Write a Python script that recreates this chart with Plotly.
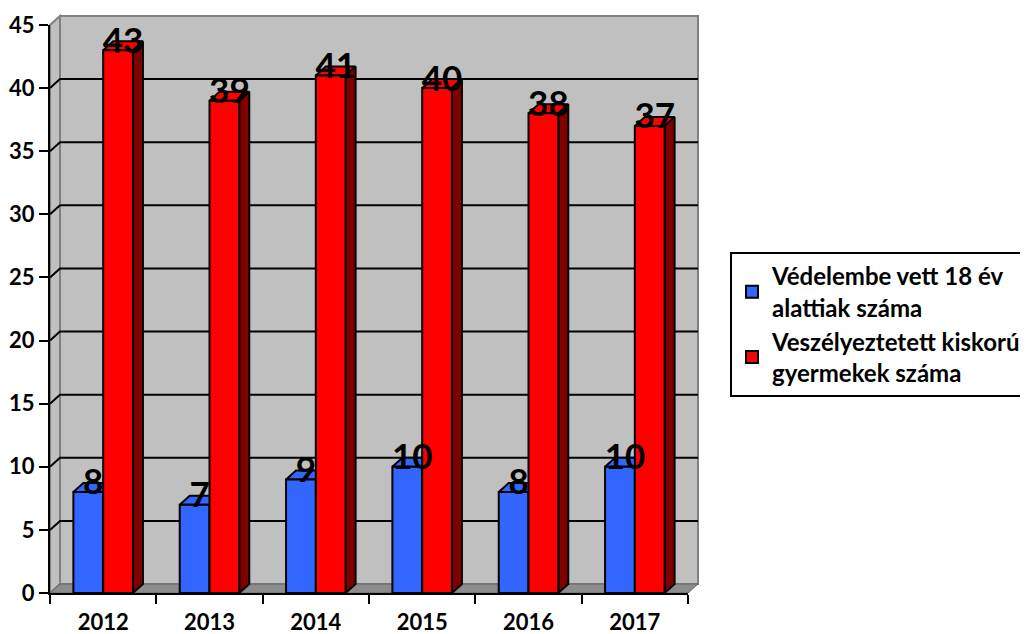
import plotly.graph_objects as go

# ---------------- data ----------------
years = ["2012", "2013", "2014", "2015", "2016", "2017"]
protected_minors = [8, 7, 9, 10, 8, 10]
endangered_children = [43, 39, 41, 40, 38, 37]
series_names = ["Védelembe vett 18 év<br>alattiak száma",
                "Veszélyeztetett kiskorú<br>gyermekek száma"]
y_ticks = [0, 5, 10, 15, 20, 25, 30, 35, 40, 45]

# ---------------- geometry / style ----------------
PAGE_OFF = 8                            # default body margin of the page
W, H = 1028 - PAGE_OFF, 634 - PAGE_OFF
ML, MT = 50 - PAGE_OFF, 25 - PAGE_OFF
PW, PH = 638, 568
MR, MB = W - ML - PW, H - MT - PH
N = len(years)
YMAX = 45
DXP, DYP = 10, 9                      # 3-D depth in pixels
DX = DXP / PW * N                      # depth in x data units
DY = DYP / PH * YMAX                   # depth in y data units
dxp, dyp = DXP / PW, DYP / PH          # depth in paper units
BW = 0.28                              # bar width (category units)

FONT = "Lato"
front_cols = ["#3366FF", "#FF0000"]
top_cols = ["#3366FF", "#FF0000"]
side_cols = ["#1F3D99", "#800000"]
series_vals = [protected_minors, endangered_children]

fig = go.Figure()

# depth faces (drawn on the base axes, under the front bars)
for i in range(N):
    for s in range(2):
        v = series_vals[s][i]
        x0 = i - BW if s == 0 else i
        x1 = x0 + BW
        fig.add_trace(go.Scatter(
            x=[x0, x0 + DX, x1 + DX, x1, x0],
            y=[v, v + DY, v + DY, v, v],
            fill="toself", fillcolor=top_cols[s], mode="lines",
            line=dict(color="black", width=2), showlegend=False,
            hoverinfo="skip", xaxis="x", yaxis="y"))
        fig.add_trace(go.Scatter(
            x=[x1, x1 + DX, x1 + DX, x1, x1],
            y=[0, DY, v + DY, v, 0],
            fill="toself", fillcolor=side_cols[s], mode="lines",
            line=dict(color="black", width=2), showlegend=False,
            hoverinfo="skip", xaxis="x", yaxis="y"))

# front faces as real bars (overlay axes, drawn on top)
for s in range(2):
    xs = [i - BW / 2 if s == 0 else i + BW / 2 for i in range(N)]
    fig.add_trace(go.Bar(
        x=xs, y=series_vals[s], width=BW, name=series_names[s],
        marker=dict(color=front_cols[s], line=dict(color="black", width=2)),
        xaxis="x2", yaxis="y2"))

# value labels
for s in range(2):
    xs = [(i - BW / 2 if s == 0 else i + BW / 2) + DX / 2 for i in range(N)]
    ys = [v + DY * 0.7 for v in series_vals[s]]
    fig.add_trace(go.Scatter(
        x=xs, y=ys, text=[str(v) for v in series_vals[s]], mode="text",
        textposition="middle center",
        textfont=dict(family=FONT, size=35, color="black", weight="bold"),
        showlegend=False, hoverinfo="skip", xaxis="x2", yaxis="y2",
        cliponaxis=False))

# ---------------- walls, floor, gridlines ----------------
shapes = []
shapes.append(dict(type="rect", xref="paper", yref="paper",
                   x0=dxp, x1=1 + dxp, y0=dyp, y1=1 + dyp,
                   fillcolor="#C0C0C0", line=dict(color="#808080", width=2),
                   layer="below"))
shapes.append(dict(type="path", xref="paper", yref="paper",
                   path=f"M 0,0 L {dxp},{dyp} L {dxp},{1+dyp} L 0,1 Z",
                   fillcolor="#C0C0C0", line=dict(color="#808080", width=2),
                   layer="below"))
shapes.append(dict(type="path", xref="paper", yref="paper",
                   path=f"M 0,0 L {dxp},{dyp} L {1+dxp},{dyp} L 1,0 Z",
                   fillcolor="#8C8C8C", line=dict(color="#666666", width=1),
                   layer="below"))
for v in y_ticks[1:-1]:
    yp = v / YMAX
    shapes.append(dict(type="path", xref="paper", yref="paper",
                       path=f"M 0,{yp} L {dxp},{yp+dyp} L {1+dxp},{yp+dyp}",
                       line=dict(color="black", width=2), layer="below"))

axis_common = dict(showgrid=False, zeroline=False, fixedrange=True)
fig.update_layout(
    width=W, height=H,
    margin=dict(l=ML, r=MR, t=MT, b=MB, autoexpand=False),
    paper_bgcolor="white", plot_bgcolor="rgba(0,0,0,0)",
    font=dict(family=FONT, size=22, color="black", weight="bold"),
    barmode="overlay",
    shapes=shapes,
    xaxis=dict(range=[-0.5, N - 0.5],
               tickvals=[i - 0.5 for i in range(N + 1)],
               ticktext=[""] * (N + 1),
               ticks="outside", ticklen=9, tickwidth=2, tickcolor="black",
               showline=True, linecolor="black", linewidth=2, **axis_common),
    yaxis=dict(range=[0, YMAX], tickvals=y_ticks,
               ticks="outside", ticklen=9, tickwidth=2, tickcolor="black",
               showline=True, linecolor="black", linewidth=2,
               tickfont=dict(size=22), **axis_common),
    xaxis2=dict(overlaying="x", range=[-0.5, N - 0.5],
                tickvals=list(range(N)), ticktext=years,
                ticks="outside", ticklen=10, tickcolor="rgba(0,0,0,0)",
                showline=False, tickfont=dict(size=22), **axis_common),
    yaxis2=dict(overlaying="y", range=[0, YMAX], visible=False,
                **axis_common),
    legend=dict(x=(730 - 50) / PW, y=(593 - 252) / PH,
                xanchor="left", yanchor="top",
                bordercolor="black", borderwidth=2, bgcolor="white",
                font=dict(family=FONT, size=24, color="black", weight="bold"),
                tracegroupgap=6, traceorder="normal"),
    showlegend=True,
)

fig.write_html("out.html")
